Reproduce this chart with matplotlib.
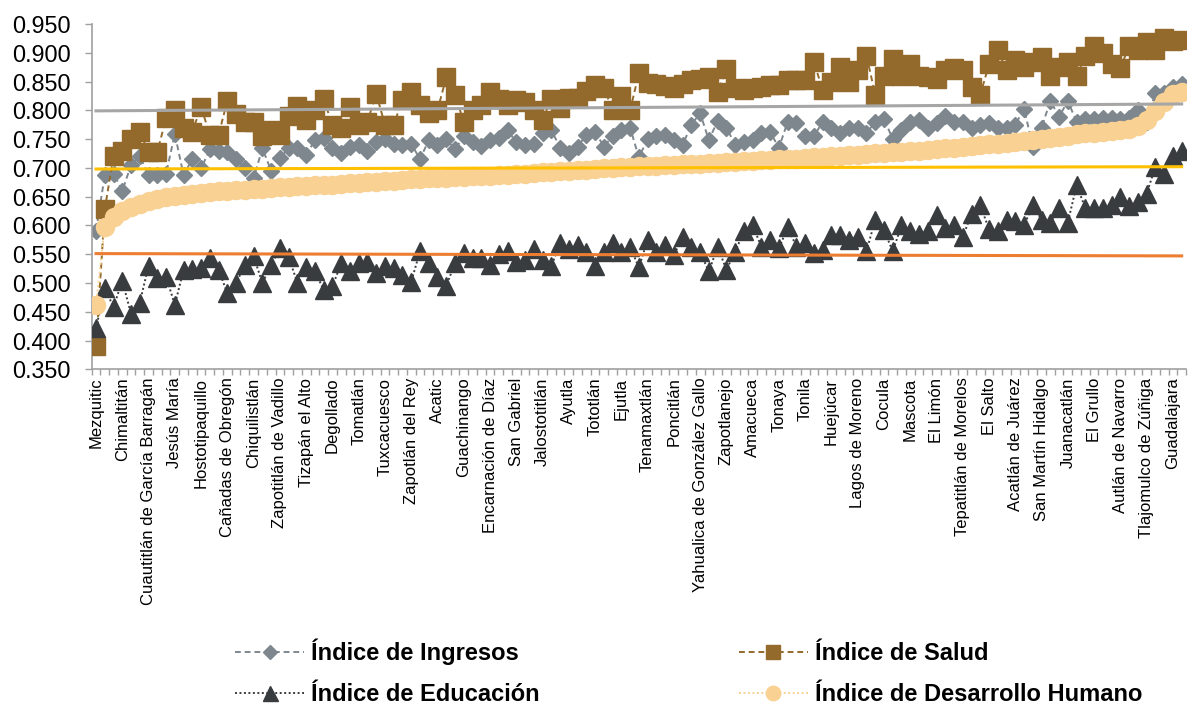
import numpy as np
import matplotlib
matplotlib.use("Agg")
import matplotlib.pyplot as plt
from matplotlib.lines import Line2D

plt.rcParams["font.family"] = ["Liberation Sans", "DejaVu Sans"]

# every third municipality carries a label on the category axis
tick_labels = [
    "Mezquitic", "Chimaltitán", "Cuautitlán de García Barragán", "Jesús María",
    "Hostotipaquillo", "Cañadas de Obregón", "Chiquilistlán", "Zapotitlán de Vadillo",
    "Tizapán el Alto", "Degollado", "Tomatlán", "Tuxcacuesco", "Zapotlán del Rey",
    "Acatic", "Guachinango", "Encarnación de Díaz", "San Gabriel", "Jalostotitlán",
    "Ayutla", "Tototlán", "Ejutla", "Tenamaxtlán", "Poncitlán",
    "Yahualica de González Gallo", "Zapotlanejo", "Amacueca", "Tonaya", "Tonila",
    "Huejúcar", "Lagos de Moreno", "Cocula", "Mascota", "El Limón",
    "Tepatitlán de Morelos", "El Salto", "Acatlán de Juárez", "San Martín Hidalgo",
    "Juanacatlán", "El Grullo", "Autlán de Navarro", "Tlajomulco de Zúñiga", "Guadalajara",
]

ingresos = [
    0.591, 0.687, 0.690, 0.660, 0.705, 0.720, 0.687, 0.687, 0.690, 0.759,
    0.687, 0.716, 0.699, 0.732, 0.730, 0.728, 0.715, 0.700, 0.682, 0.734,
    0.695, 0.717, 0.734, 0.735, 0.722, 0.748, 0.752, 0.735, 0.726, 0.737,
    0.740, 0.730, 0.745, 0.750, 0.742, 0.740, 0.742, 0.715, 0.748, 0.740,
    0.750, 0.732, 0.755, 0.745, 0.738, 0.748, 0.752, 0.765, 0.745, 0.740,
    0.742, 0.760, 0.766, 0.735, 0.726, 0.737, 0.757, 0.763, 0.737, 0.755,
    0.766, 0.770, 0.718, 0.750, 0.755, 0.757, 0.748, 0.740, 0.775, 0.795,
    0.748, 0.782, 0.770, 0.740, 0.745, 0.748, 0.760, 0.762, 0.735, 0.780,
    0.778, 0.755, 0.755, 0.780, 0.770, 0.760, 0.770, 0.770, 0.760, 0.780,
    0.785, 0.750, 0.765, 0.780, 0.783, 0.770, 0.778, 0.790, 0.780, 0.780,
    0.770, 0.775, 0.778, 0.770, 0.770, 0.775, 0.803, 0.737, 0.770, 0.816,
    0.789, 0.816, 0.780, 0.785, 0.785, 0.787, 0.787, 0.785, 0.787, 0.800,
    0.780, 0.830, 0.830, 0.840, 0.845,
]

salud = [
    0.390, 0.628, 0.721, 0.730, 0.750, 0.762, 0.728, 0.728, 0.786, 0.800,
    0.770, 0.763, 0.806, 0.757, 0.757, 0.817, 0.793, 0.780, 0.780, 0.755,
    0.765, 0.757, 0.790, 0.807, 0.783, 0.800, 0.819, 0.775, 0.770, 0.806,
    0.775, 0.780, 0.829, 0.775, 0.775, 0.818, 0.832, 0.809, 0.795, 0.800,
    0.857, 0.827, 0.780, 0.800, 0.809, 0.831, 0.819, 0.810, 0.818, 0.815,
    0.800, 0.784, 0.819, 0.804, 0.822, 0.822, 0.834, 0.844, 0.839, 0.801,
    0.824, 0.800, 0.864, 0.848, 0.845, 0.842, 0.839, 0.845, 0.852, 0.855,
    0.858, 0.832, 0.872, 0.838, 0.835, 0.838, 0.841, 0.844, 0.844, 0.852,
    0.852, 0.852, 0.884, 0.835, 0.850, 0.876, 0.850, 0.870, 0.895, 0.827,
    0.860, 0.889, 0.860, 0.880, 0.860, 0.857, 0.855, 0.870, 0.873, 0.870,
    0.840, 0.827, 0.880, 0.904, 0.870, 0.887, 0.875, 0.884, 0.893, 0.860,
    0.875, 0.884, 0.860, 0.895, 0.911, 0.900, 0.880, 0.873, 0.912, 0.905,
    0.919, 0.905, 0.925, 0.920, 0.922,
]

educacion = [
    0.421, 0.491, 0.458, 0.504, 0.446, 0.466, 0.530, 0.508, 0.511, 0.462,
    0.523, 0.524, 0.526, 0.543, 0.523, 0.482, 0.500, 0.531, 0.546, 0.500,
    0.531, 0.560, 0.545, 0.500, 0.527, 0.520, 0.488, 0.494, 0.534, 0.520,
    0.534, 0.537, 0.517, 0.529, 0.526, 0.514, 0.502, 0.555, 0.534, 0.510,
    0.495, 0.534, 0.552, 0.543, 0.543, 0.531, 0.550, 0.555, 0.537, 0.540,
    0.559, 0.540, 0.529, 0.569, 0.559, 0.566, 0.553, 0.529, 0.554, 0.569,
    0.554, 0.563, 0.527, 0.575, 0.554, 0.566, 0.548, 0.580, 0.563, 0.553,
    0.520, 0.563, 0.523, 0.554, 0.590, 0.600, 0.563, 0.575, 0.560, 0.597,
    0.563, 0.570, 0.552, 0.558, 0.584, 0.584, 0.575, 0.580, 0.555, 0.610,
    0.592, 0.555, 0.600, 0.590, 0.585, 0.590, 0.618, 0.595, 0.600, 0.580,
    0.620, 0.635, 0.593, 0.590, 0.610, 0.608, 0.600, 0.635, 0.610, 0.605,
    0.630, 0.605, 0.670, 0.630, 0.630, 0.630, 0.636, 0.650, 0.633, 0.640,
    0.655, 0.702, 0.690, 0.720, 0.730,
]

idh = [
    0.462, 0.598, 0.615, 0.625, 0.632, 0.638, 0.642, 0.646, 0.649, 0.651,
    0.653, 0.655, 0.657, 0.658, 0.659, 0.660, 0.661, 0.662, 0.663, 0.664,
    0.665, 0.666, 0.667, 0.668, 0.669, 0.670, 0.671, 0.671, 0.672, 0.673,
    0.674, 0.675, 0.676, 0.677, 0.678, 0.679, 0.680, 0.681, 0.682, 0.682,
    0.683, 0.684, 0.684, 0.685, 0.686, 0.686, 0.687, 0.688, 0.689, 0.690,
    0.691, 0.692, 0.693, 0.694, 0.695, 0.696, 0.697, 0.698, 0.699, 0.700,
    0.701, 0.702, 0.703, 0.703, 0.704, 0.705, 0.705, 0.706, 0.707, 0.707,
    0.708, 0.709, 0.710, 0.711, 0.712, 0.712, 0.713, 0.714, 0.715, 0.716,
    0.716, 0.717, 0.718, 0.719, 0.720, 0.721, 0.722, 0.723, 0.724, 0.725,
    0.726, 0.727, 0.728, 0.729, 0.730, 0.731, 0.732, 0.734, 0.735, 0.737,
    0.738, 0.740, 0.741, 0.742, 0.744, 0.745, 0.747, 0.748, 0.750, 0.752,
    0.754, 0.756, 0.758, 0.760, 0.761, 0.763, 0.764, 0.766, 0.768, 0.772,
    0.783, 0.798, 0.815, 0.828, 0.832,
]

# state reference lines (value at first and last municipality)
ref_ingresos = [0.799, 0.811]
ref_idh = [0.698, 0.702]
ref_educacion = [0.551, 0.547]

n = len(idh)
x = np.arange(n)

fig = plt.figure(figsize=(11.95, 7.05), dpi=100)
ax = fig.add_axes([0.0767, 0.4762, 0.9158, 0.4898])

c_ing, c_sal, c_edu, c_idh = "#7E878D", "#946A2C", "#393C3F", "#F9D193"
dash = (0, (3, 2))
dot = (0, (1, 1.3))

ax.plot(x, ingresos, color=c_ing, lw=1.4, ls=dash, marker="D", ms=8.5,
        mfc=c_ing, mec=c_ing, zorder=2)
ax.plot(x, salud, color=c_sal, lw=1.4, ls=dash, marker="s", ms=13,
        mfc=c_sal, mec=c_sal, zorder=3)
ax.plot(x, educacion, color=c_edu, lw=1.4, ls=dot, marker="^", ms=13.5,
        mfc=c_edu, mec=c_edu, zorder=4)
ax.plot(x, idh, color=c_idh, lw=1.4, ls=dot, marker="o", ms=13,
        mfc=c_idh, mec=c_idh, zorder=5)

ends = [0, n - 1]
ax.plot(ends, ref_ingresos, color="#A6A6A6", lw=2.2, zorder=6)
ax.plot(ends, ref_idh, color="#FFC000", lw=2.2, zorder=6)
ax.plot(ends, ref_educacion, color="#ED7D31", lw=2.2, zorder=6)

ax.set_xlim(-0.5, n - 0.5)
ax.set_ylim(0.35, 0.95)
yt = np.arange(0.35, 0.951, 0.05)
ax.set_yticks(yt)
ax.set_yticklabels([f"{v:.3f}" for v in yt], fontsize=16.8)

ax.set_xticks(np.arange(0, n, 3)[: len(tick_labels)])
ax.set_xticklabels(tick_labels, rotation=90, fontsize=12)
ax.set_xticks(np.arange(-0.5, n, 1), minor=True)
ax.tick_params(axis="x", which="major", length=0, pad=6)
ax.tick_params(axis="x", which="minor", length=4, color="#A0A0A0", width=1)
ax.tick_params(axis="y", length=5, color="#A0A0A0", width=1, pad=10)

for side in ["top", "right"]:
    ax.spines[side].set_visible(False)
for side in ["left", "bottom"]:
    ax.spines[side].set_color("#A0A0A0")
    ax.spines[side].set_linewidth(1.2)

handles = [
    Line2D([], [], color=c_ing, lw=1.4, ls=dash, marker="D", ms=8.5, mfc=c_ing, mec=c_ing),
    Line2D([], [], color=c_edu, lw=1.4, ls=dot, marker="^", ms=13.5, mfc=c_edu, mec=c_edu),
    Line2D([], [], color=c_sal, lw=1.4, ls=dash, marker="s", ms=13, mfc=c_sal, mec=c_sal),
    Line2D([], [], color=c_idh, lw=1.4, ls=dot, marker="o", ms=13, mfc=c_idh, mec=c_idh),
]
labels = ["Índice de Ingresos", "Índice de Educación", "Índice de Salud",
          "Índice de Desarrollo Humano"]
fig.legend(handles, labels, ncol=2, loc="upper left", bbox_to_anchor=(0.197, 0.094),
           frameon=False, prop={"weight": "bold", "size": 17}, handlelength=2.9,
           handletextpad=0.3, columnspacing=8.45, labelspacing=0.75, markerscale=0.8,
           borderaxespad=0, borderpad=0)

fig.savefig("out.png", dpi=100)
